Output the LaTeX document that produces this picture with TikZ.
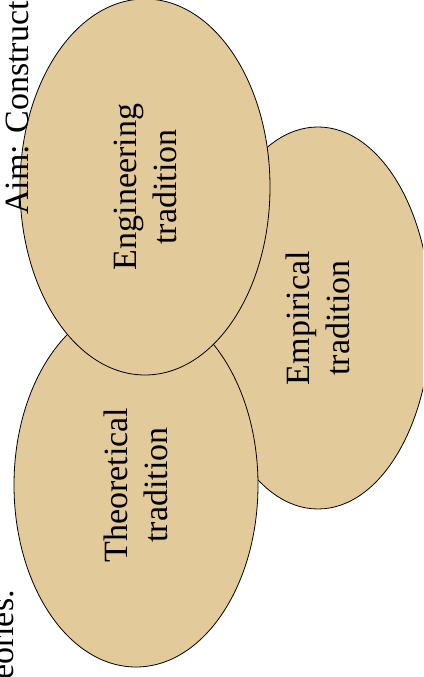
\documentclass[tikz,border=0pt]{standalone}
\usepackage{fontspec}
\setmainfont{Liberation Serif}
\usetikzlibrary{shapes.geometric}
\definecolor{traditionfill}{RGB}{227,202,154}
\begin{document}
\begin{tikzpicture}[
		x=1pt, y=1pt,
		every node/.style={align=center, font=\fontsize{34}{40}\selectfont},
		tradition/.style={ellipse, draw=black, line width=0.8pt, fill=traditionfill, rotate=90, inner sep=0pt}
		]
		\path[use as bounding box, clip] (0,0) rectangle (423,677);
		
		\node (emp) [tradition, minimum width=382pt, minimum height=226pt] at (318,359) {Empirical\\tradition};
		\node (theo) [tradition, minimum width=364pt, minimum height=244pt] at (136,192) {Theoretical\\tradition};
		\node (eng) [tradition, minimum width=376pt, minimum height=250pt] at (145,490) {Engineering\\tradition};
		
		\node (aim) [rotate=90, anchor=base west, inner sep=0pt] at (28,462) {Aim: Construct};
		\node (theories) [rotate=90, anchor=base east, inner sep=0pt] at (13,87) {eories.};
	\end{tikzpicture}
\end{document}
